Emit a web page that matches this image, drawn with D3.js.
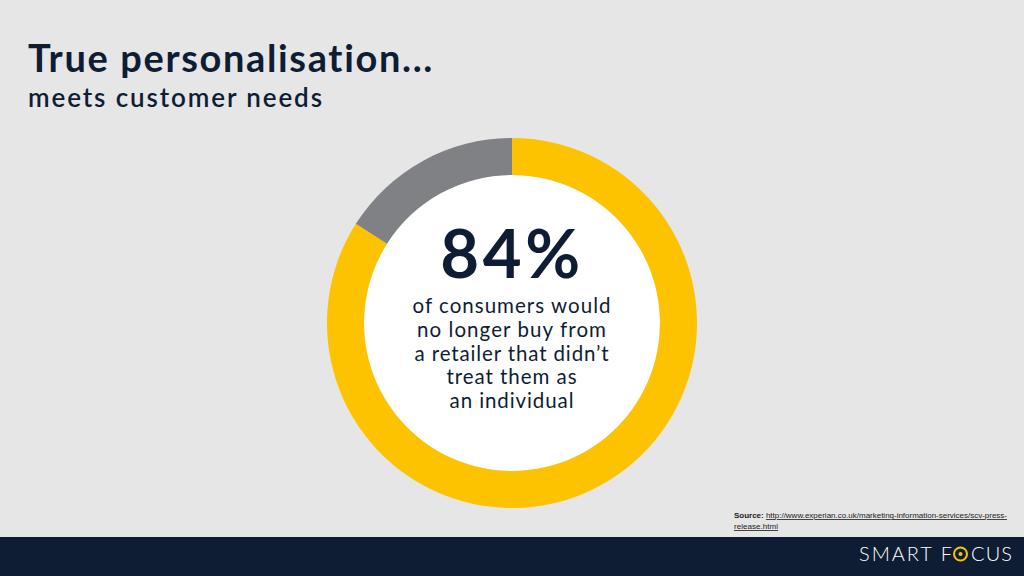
<!DOCTYPE html>
<html>
<head>
<meta charset="utf-8">
<script src="https://cdn.jsdelivr.net/npm/d3@7"></script>
<style>
  html, body { margin: 0; padding: 0; background: #e6e6e6; }
  svg { display: block; }
</style>
</head>
<body>
<div id="chart"></div>
<script>
// values
const segments = ['Would no longer buy', 'Other'];
const shares = [84, 16];
const bigLabel = '84%';
const bodyLines = [
  'of consumers would',
  'no longer buy from',
  'a retailer that didn\u2019t',
  'treat them as',
  'an individual'
];
const titleText = 'True personalisation...';
const subtitleText = 'meets customer needs';
const sourceUrl = 'http://www.experian.co.uk/marketing-information-services/scv-press-';
const sourceUrl2 = 'release.html';

const width = 1024;
const height = 576;
const navy = '#0e1d34';
const yellow = '#fdc300';
const font = 'Lato, "Noto Sans", sans-serif';

const svg = d3.select('#chart')
  .append('svg')
    .attr('width', width)
    .attr('height', height);

// stretch a text to a given width with letter-spacing
function fit(sel, target) {
  const node = sel.node();
  const n = node.getNumberOfChars();
  const w = node.getComputedTextLength();
  sel.style('letter-spacing', `${(target - w) / Math.max(1, n - 1)}px`);
  return sel;
}

svg.append('rect')
  .attr('width', width)
  .attr('height', height)
  .attr('fill', '#e6e6e6');

// title
svg.append('text')
  .attr('x', 28)
  .attr('y', 72)
  .attr('fill', navy)
  .style('font-family', font)
  .style('font-weight', 700)
  .style('font-size', '38px')
  .text(titleText)
  .call(fit, 405);

svg.append('text')
  .attr('x', 28)
  .attr('y', 107)
  .attr('fill', navy)
  .style('font-family', font)
  .style('font-weight', 600)
  .style('font-size', '26px')
  .text(subtitleText)
  .call(fit, 294);

// donut
const cx = 512, cy = 323;
const outerR = 185, innerR = 148;

const color = d3.scaleOrdinal()
  .domain(segments)
  .range([yellow, '#808185']);

const pie = d3.pie()
  .sort(null)
  .value(d => d.value);

const arc = d3.arc()
  .innerRadius(innerR)
  .outerRadius(outerR);

const g = svg.append('g')
  .attr('transform', `translate(${cx},${cy})`);

g.append('circle')
  .attr('r', innerR)
  .attr('fill', '#ffffff');

g.selectAll('path.slice')
  .data(pie(segments.map((s, i) => ({ key: s, value: shares[i] }))))
  .enter().append('path')
    .attr('class', 'slice')
    .attr('d', arc)
    .attr('fill', d => color(d.data.key));

g.append('text')
  .attr('text-anchor', 'middle')
  .attr('y', 278 - cy)
  .attr('fill', navy)
  .style('font-family', font)
  .style('font-weight', 700)
  .style('font-size', '67px')
  .text(bigLabel)
  .call(fit, 140);

const bodyWidths = [198, 189, 194, 130, 124];

g.selectAll('text.body')
  .data(bodyLines)
  .enter().append('text')
    .attr('class', 'body')
    .attr('text-anchor', 'middle')
    .attr('y', (d, i) => 313 - cy + i * 23.75)
    .attr('fill', navy)
    .style('font-family', font)
    .style('font-weight', 400)
    .style('font-size', '20.5px')
    .text(d => d)
    .each(function(d, i) { fit(d3.select(this), bodyWidths[i]); });

// source note
const src = svg.append('text')
  .attr('x', 734)
  .attr('y', 518)
  .attr('fill', '#1a1a1a')
  .style('font-family', '"Liberation Sans Narrow", "Liberation Sans", sans-serif')
  .style('font-size', '8px');
src.append('tspan').style('font-weight', 700).text('Source: ');
src.append('tspan').style('text-decoration', 'underline').text(sourceUrl);
fit(src, 273);

svg.append('text')
  .attr('x', 734)
  .attr('y', 529)
  .attr('fill', '#1a1a1a')
  .style('font-family', '"Liberation Sans Narrow", "Liberation Sans", sans-serif')
  .style('font-size', '8px')
  .style('text-decoration', 'underline')
  .text(sourceUrl2)
  .call(fit, 44);

// footer band
svg.append('rect')
  .attr('y', 537)
  .attr('width', width)
  .attr('height', height - 537)
  .attr('fill', navy);

const logoFont = t => t
  .attr('fill', '#ffffff')
  .style('font-family', font)
  .style('font-weight', 300)
  .style('font-size', '20px');

svg.append('text')
  .attr('x', 859)
  .attr('y', 561)
  .call(logoFont)
  .text('SMART F')
  .call(fit, 93);

svg.append('circle')
  .attr('cx', 960.5)
  .attr('cy', 554)
  .attr('r', 6.5)
  .attr('fill', 'none')
  .attr('stroke', yellow)
  .attr('stroke-width', 2);

svg.append('circle')
  .attr('cx', 960.5)
  .attr('cy', 554)
  .attr('r', 2)
  .attr('fill', yellow);

svg.append('text')
  .attr('x', 971)
  .attr('y', 561)
  .call(logoFont)
  .text('CUS')
  .call(fit, 41);
</script>
</body>
</html>
